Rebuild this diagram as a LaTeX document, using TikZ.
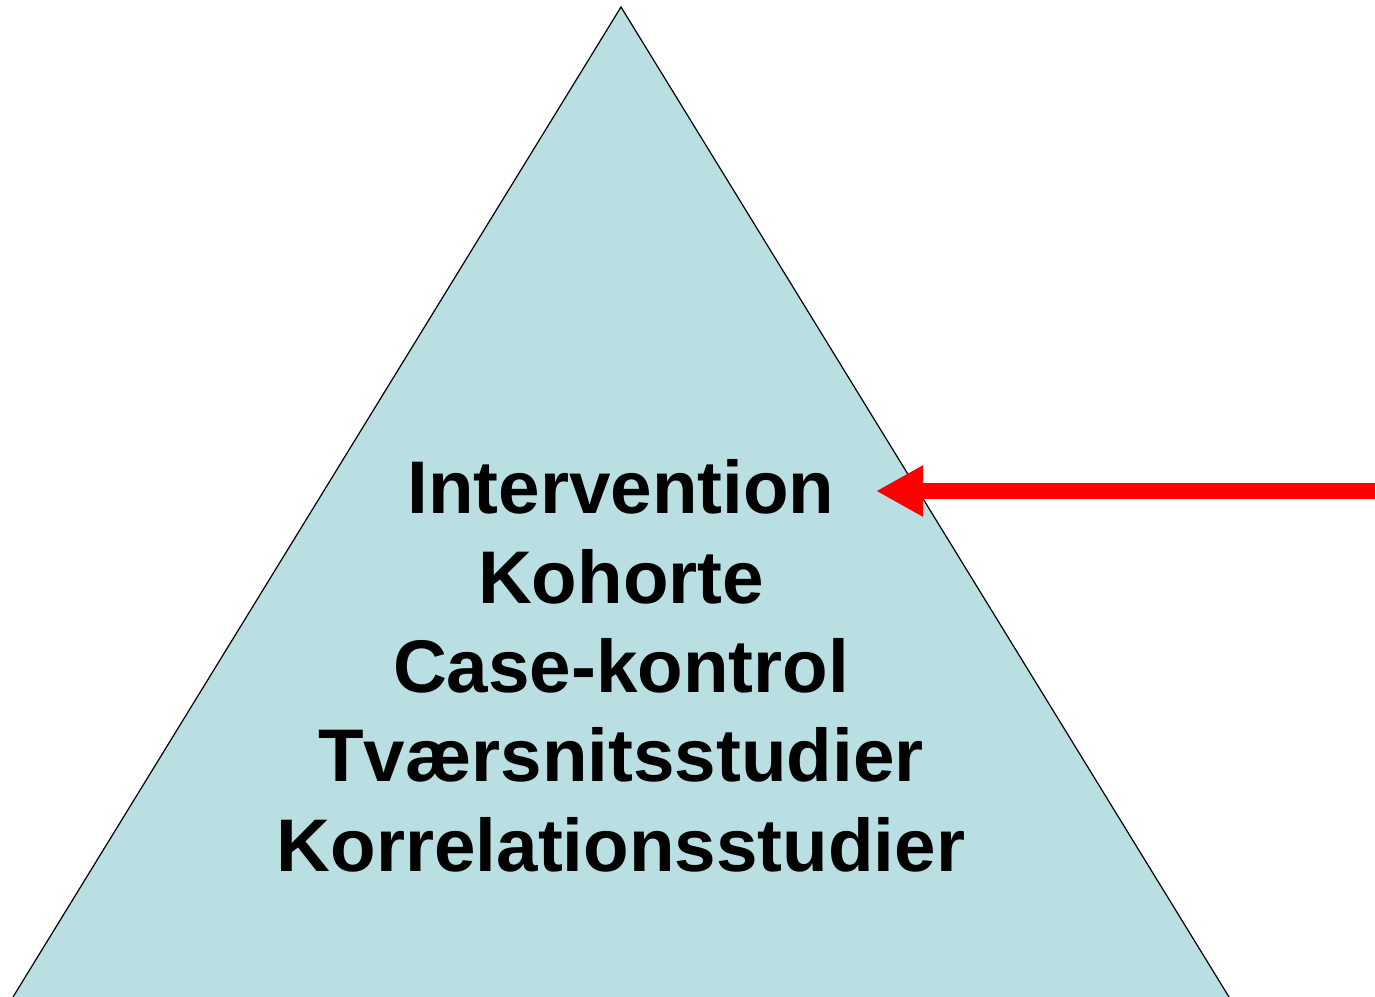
\documentclass[tikz,border=0pt]{standalone}
\usepackage{fontspec}
\setmainfont{Liberation Sans}
\usetikzlibrary{arrows.meta}
\definecolor{pyrfill}{RGB}{186,223,227}
\begin{document}
\begin{tikzpicture}[
  x=0.5pt, y=-0.5pt,
  level/.style={font=\fontsize{37.3}{44}\selectfont\bfseries, inner sep=0pt, anchor=base},
  arrow/.style={-{Triangle[length=23.5pt, width=24pt]}, line width=8pt, red}
]
\useasboundingbox (0,0) rectangle (1375,996);
\draw[fill=pyrfill, line width=0.6pt] (621,7) -- (1237,1010) -- (5,1010) -- cycle;
\node[level] (I) at (621,513) {Intervention};
\node[level] (K) at (621,603) {Kohorte};
\node[level] (C) at (621,692) {Case-kontrol};
\node[level] (T) at (621,781) {Tværsnitsstudier};
\node[level] (R) at (621,871) {Korrelationsstudier};
\coordinate (start) at (1375,491);
\coordinate (tip) at (876,491);
\draw[arrow] (start) -- (tip);
\end{tikzpicture}
\end{document}
